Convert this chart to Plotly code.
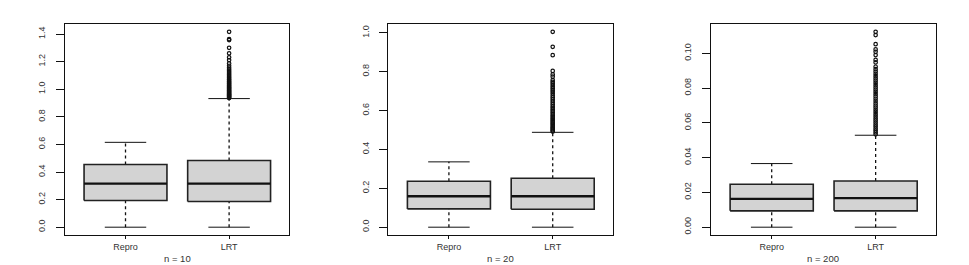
import plotly.graph_objects as go

# ---------------- data ----------------
groups = ["Repro", "LRT"]
titles = ["n = 10", "n = 20", "n = 200"]

# per panel: [Repro, LRT]
lower_whisker = [[0.0, 0.0], [0.0, 0.0], [0.0, 0.0]]
q1 = [[0.193, 0.186], [0.094, 0.092], [0.0094, 0.0094]]
median = [[0.316, 0.316], [0.159, 0.159], [0.0163, 0.0167]]
q3 = [[0.454, 0.483], [0.236, 0.252], [0.0247, 0.0266]]
upper_whisker = [[0.615, 0.932], [0.336, 0.488], [0.0366, 0.0529]]

outliers_p1_lrt = [0.936, 0.941, 0.945, 0.950, 0.955, 0.959, 0.964, 0.969, 0.975,
                   0.980, 0.986, 0.991, 0.997, 1.003, 1.008, 1.014, 1.020, 1.026,
                   1.032, 1.039, 1.045, 1.052, 1.058, 1.066, 1.073, 1.081, 1.089,
                   1.097, 1.106, 1.115, 1.124, 1.134, 1.144, 1.156, 1.170, 1.187,
                   1.211, 1.231, 1.260, 1.300, 1.356, 1.363, 1.416]
outliers_p2_lrt = [0.492, 0.497, 0.503, 0.509, 0.514, 0.520, 0.527, 0.533, 0.540,
                   0.546, 0.553, 0.560, 0.567, 0.574, 0.582, 0.590, 0.598, 0.606,
                   0.614, 0.622, 0.631, 0.640, 0.649, 0.658, 0.667, 0.676, 0.686,
                   0.696, 0.705, 0.714, 0.722, 0.731, 0.740, 0.748, 0.757, 0.774,
                   0.786, 0.804, 0.885, 0.928, 1.005]
outliers_p3_lrt = [0.0534, 0.0545, 0.0556, 0.0567, 0.0579, 0.0590, 0.0602, 0.0614,
                   0.0626, 0.0638, 0.0650, 0.0663, 0.0675, 0.0688, 0.0700, 0.0713,
                   0.0726, 0.0739, 0.0752, 0.0765, 0.0778, 0.0791, 0.0804, 0.0817,
                   0.0830, 0.0843, 0.0856, 0.0869, 0.0882, 0.0895, 0.0909, 0.0923,
                   0.0948, 0.0962, 0.0990, 0.1009, 0.1023, 0.1053, 0.1105, 0.1124]
outliers = [[[], outliers_p1_lrt], [[], outliers_p2_lrt], [[], outliers_p3_lrt]]

y_tickvals = [[0.0, 0.2, 0.4, 0.6, 0.8, 1.0, 1.2, 1.4],
              [0.0, 0.2, 0.4, 0.6, 0.8, 1.0],
              [0.00, 0.02, 0.04, 0.06, 0.08, 0.10]]
y_ticktext = [["0.0", "0.2", "0.4", "0.6", "0.8", "1.0", "1.2", "1.4"],
              ["0.0", "0.2", "0.4", "0.6", "0.8", "1.0"],
              ["0.00", "0.02", "0.04", "0.06", "0.08", "0.10"]]

# ---------------- style / layout ----------------
W, H = 969, 265
x_domains = [(65, 289), (388.3, 612.7), (711, 935.7)]
y_dom = ((H - 235) / H, (H - 24) / H)
half_box = 0.4
half_cap = 0.2
FONT = "Liberation Sans, Arial, Helvetica, sans-serif"
BLACK = "#111111"
TXT = "#333333"

fig = go.Figure()

for p in range(3):
    xa = "x" if p == 0 else f"x{p+1}"
    ya = "y" if p == 0 else f"y{p+1}"
    for g in range(len(groups)):
        c = g + 1
        lo, a, m, b, hi = (lower_whisker[p][g], q1[p][g], median[p][g],
                           q3[p][g], upper_whisker[p][g])
        # whiskers (dashed)
        fig.add_trace(go.Scatter(
            x=[c, c, None, c, c], y=[lo, a, None, b, hi], mode="lines",
            line=dict(color=BLACK, width=1.3, dash="dot"),
            xaxis=xa, yaxis=ya, showlegend=False, hoverinfo="skip"))
        # caps
        fig.add_trace(go.Scatter(
            x=[c - half_cap, c + half_cap, None, c - half_cap, c + half_cap],
            y=[lo, lo, None, hi, hi], mode="lines",
            line=dict(color=BLACK, width=1),
            xaxis=xa, yaxis=ya, showlegend=False, hoverinfo="skip"))
        # box
        fig.add_trace(go.Scatter(
            x=[c - half_box, c + half_box, c + half_box, c - half_box, c - half_box],
            y=[a, a, b, b, a], mode="lines", fill="toself",
            fillcolor="#D3D3D3", line=dict(color="#222222", width=1.6),
            xaxis=xa, yaxis=ya, showlegend=False, hoverinfo="skip"))
        # median
        fig.add_trace(go.Scatter(
            x=[c - half_box, c + half_box], y=[m, m], mode="lines",
            line=dict(color=BLACK, width=2.4),
            xaxis=xa, yaxis=ya, showlegend=False, hoverinfo="skip"))
        # outliers
        if outliers[p][g]:
            fig.add_trace(go.Scatter(
                x=[c] * len(outliers[p][g]), y=outliers[p][g], mode="markers",
                marker=dict(symbol="circle-open", size=3.5, color=BLACK,
                            line=dict(width=1.2)),
                xaxis=xa, yaxis=ya, showlegend=False, hoverinfo="skip"))

    # axis ranges like R (4% padding of data range)
    all_vals = (lower_whisker[p] + upper_whisker[p]
                + [v for grp in outliers[p] for v in grp])
    vmin, vmax = min(all_vals), max(all_vals)
    pad = 0.04 * (vmax - vmin)

    xkey = "xaxis" if p == 0 else f"xaxis{p+1}"
    ykey = "yaxis" if p == 0 else f"yaxis{p+1}"
    d0, d1 = x_domains[p]
    fig.layout[xkey] = dict(
        domain=[d0 / W, d1 / W], range=[0.416, 2.578], anchor=ya,
        tickvals=[1, 2], ticktext=groups, ticks="outside", ticklen=3,
        tickcolor=BLACK, showline=True, linecolor=BLACK, linewidth=1,
        mirror=True, showgrid=False, zeroline=False, fixedrange=True,
        tickfont=dict(family=FONT, size=9, color=TXT))
    fig.layout[ykey] = dict(
        domain=list(y_dom), range=[vmin - pad, vmax + pad], anchor=xa,
        tickvals=y_tickvals[p], ticktext=y_ticktext[p], ticks="outside",
        ticklen=8, tickcolor=BLACK, tickangle=-90, ticklabelstandoff=7,
        showline=True, linecolor=BLACK, linewidth=1, mirror=True,
        showgrid=False, zeroline=False, fixedrange=True,
        tickfont=dict(family=FONT, size=9, color=TXT))
    fig.add_annotation(
        text=titles[p], xref=f"{xa} domain", x=0.5, yref="paper",
        y=(H - 258) / H, xanchor="center", yanchor="middle", showarrow=False,
        font=dict(family=FONT, size=9.5, color=TXT))

fig.update_layout(
    width=W, height=H, margin=dict(l=0, r=0, t=0, b=0),
    paper_bgcolor="white", plot_bgcolor="white", showlegend=False)

fig.write_html("out.html", config={"displayModeBar": False},
               post_script="document.body.style.margin='0px';")
